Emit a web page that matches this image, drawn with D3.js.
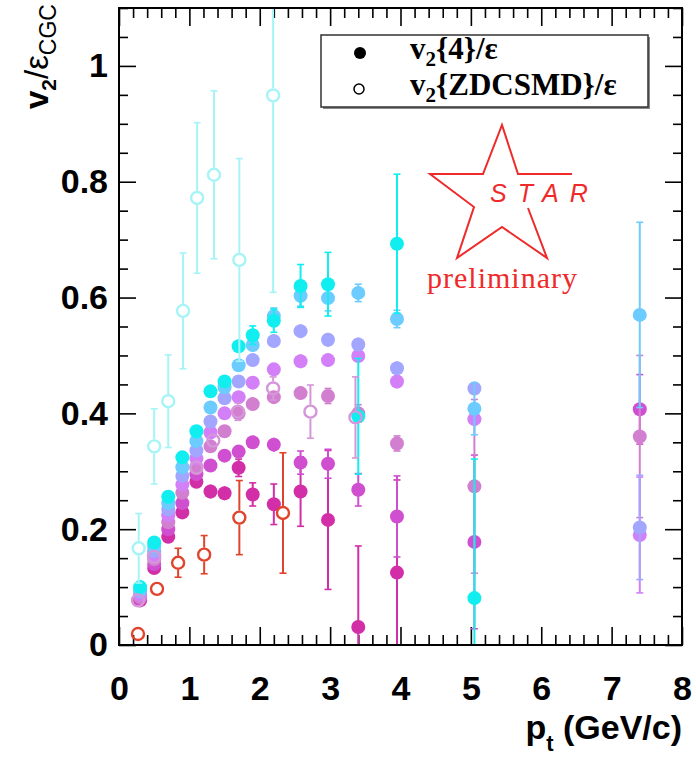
<!DOCTYPE html>
<html>
<head>
<meta charset="utf-8">
<script src="https://cdn.jsdelivr.net/npm/d3@7"></script>
<style>
  body { margin: 0; background: #fff; }
  .tick text { font-family: "Liberation Sans", Arial, sans-serif; font-weight: bold; }
</style>
</head>
<body>
<div id="chart"></div>
<script>
// pt bin centres for the v2{4} points (GeV/c)
const ptV4 = [0.3, 0.5, 0.7, 0.9, 1.1, 1.3, 1.5, 1.7, 1.9, 2.2, 2.58, 2.97, 3.4, 3.95, 5.05, 7.4];

// v2{4}/eps, one array per centrality (peripheral -> central), null = off scale
const v4Cyan    = [0.100, 0.177, 0.256, 0.324, 0.369, 0.438, 0.455, 0.516, 0.535, 0.560, 0.620, 0.623, 0.395, 0.693, 0.081, null];
const v4CyanErr = [0.005, 0.005, 0.006, 0.007, 0.008, 0.009, 0.010, 0.012, 0.016, 0.020, 0.037, 0.055, 0.100, 0.120, 0.240, null];
const v4Sky     = [0.096, 0.170, 0.245, 0.307, 0.352, 0.410, 0.445, 0.483, 0.518, 0.568, 0.603, 0.599, 0.608, 0.563, 0.408, 0.570];
const v4SkyErr  = [0.004, 0.005, 0.005, 0.006, 0.007, 0.008, 0.009, 0.010, 0.012, 0.014, 0.018, 0.022, 0.015, 0.015, 0.045, 0.160];
const v4Lav     = [0.092, 0.162, 0.234, 0.292, 0.336, 0.386, 0.426, 0.455, 0.492, 0.525, 0.542, 0.527, 0.519, 0.478, 0.443, 0.203];
const v4LavErr  = [0.004, 0.004, 0.005, 0.006, 0.006, 0.007, 0.008, 0.009, 0.010, 0.011, 0.012, 0.012, 0.012, 0.012, 0.012, 0.090];
const v4Vio     = [0.087, 0.155, 0.224, 0.277, 0.322, 0.367, 0.400, 0.428, 0.453, 0.476, 0.490, 0.492, 0.499, 0.455, 0.390, 0.190];
const v4VioErr  = [0.004, 0.004, 0.005, 0.006, 0.006, 0.007, 0.008, 0.009, 0.010, 0.011, 0.012, 0.012, 0.012, 0.012, 0.012, 0.100];
const v4Orc     = [0.083, 0.148, 0.212, 0.263, 0.308, 0.343, 0.369, 0.400, 0.416, 0.428, 0.435, 0.430, 0.400, 0.348, 0.274, 0.360];
const v4OrcErr  = [0.004, 0.004, 0.005, 0.006, 0.006, 0.007, 0.008, 0.009, 0.010, 0.011, 0.012, 0.013, 0.015, 0.013, 0.150, 0.140];
const v4Mag     = [0.080, 0.140, 0.200, 0.245, 0.295, 0.310, 0.327, 0.334, 0.350, 0.346, 0.315, 0.313, 0.268, 0.222, 0.178, 0.407];
const v4MagErr  = [0.004, 0.005, 0.005, 0.006, 0.006, 0.007, 0.008, 0.009, 0.010, 0.012, 0.020, 0.025, 0.028, 0.070, 0.150, 0.060];
const v4Deep    = [0.077, 0.133, 0.187, 0.229, 0.282, 0.265, 0.262, 0.306, 0.260, 0.243, 0.265, 0.216, 0.031, 0.125, null, null];
const v4DeepErr = [0.004, 0.005, 0.006, 0.006, 0.008, 0.012, 0.012, 0.015, 0.020, 0.035, 0.060, 0.120, 0.140, 0.160, null, null];

// v2{ZDCSMD}/eps (open symbols)
const ptZdcCyan  = [0.28, 0.50, 0.70, 0.91, 1.11, 1.35, 1.71, 2.19];
const zdcCyan    = [0.167, 0.343, 0.421, 0.577, 0.772, 0.812, 0.665, 0.949];
const zdcCyanErr = [0.060, 0.065, 0.080, 0.100, 0.130, 0.145, 0.175, 0.340];
const ptZdcOrc   = [0.27, 0.50, 1.10, 1.34, 1.69, 2.19, 2.72, 3.36];
const zdcOrc     = [0.077, 0.152, 0.306, 0.353, 0.403, 0.443, 0.403, 0.393];
const zdcOrcErr  = [0.005, 0.008, 0.010, 0.012, 0.015, 0.020, 0.046, 0.070];
const ptZdcRed   = [0.27, 0.54, 0.84, 1.21, 1.71, 2.33];
const zdcRed     = [0.019, 0.097, 0.142, 0.156, 0.220, 0.228];
const zdcRedErr  = [0.010, 0.012, 0.025, 0.033, 0.064, 0.104];

const xTicks = [0, 1, 2, 3, 4, 5, 6, 7, 8];
const yTicks = [0, 0.2, 0.4, 0.6, 0.8, 1];
const yTickLabels = ["0", "0.2", "0.4", "0.6", "0.8", "1"];

const W = 696, H = 762;
const margin = { top: 8, right: 14, bottom: 117, left: 119 };
const w = W - margin.left - margin.right;
const h = H - margin.top - margin.bottom;

const svg = d3.select("#chart").append("svg")
    .attr("width", W).attr("height", H);

const g = svg.append("g")
    .attr("transform", `translate(${margin.left},${margin.top})`);

const x = d3.scaleLinear().domain([0, 8]).range([0, w]);
const y = d3.scaleLinear().domain([0, 1.1]).range([h, 0]);

svg.append("defs").append("clipPath").attr("id", "plotclip")
    .append("rect").attr("width", w).attr("height", h);

// ---- axes (ROOT style: ticks inside, on all four sides)
const minorX = d3.range(0, 8.001, 0.2).filter(d => Math.abs(d - Math.round(d)) > 1e-6);
const minorY = d3.range(0, 1.101, 0.05).filter(d => Math.abs(d * 5 - Math.round(d * 5)) > 1e-6);

function styleAxis(sel) {
    sel.select(".domain").remove();
    sel.selectAll(".tick line").attr("stroke", "#000").attr("stroke-width", 1.6);
}

g.append("g").attr("transform", `translate(0,${h})`)
    .call(d3.axisBottom(x).tickValues(xTicks).tickSize(-18).tickPadding(31).tickFormat(d3.format("d")))
    .call(styleAxis)
    .selectAll("text").style("font-size", "34px").attr("fill", "#000");
g.append("g").attr("transform", `translate(0,${h})`)
    .call(d3.axisBottom(x).tickValues(minorX).tickSize(-10).tickFormat(""))
    .call(styleAxis);
g.append("g")
    .call(d3.axisTop(x).tickValues(xTicks).tickSize(-18).tickFormat(""))
    .call(styleAxis);
g.append("g")
    .call(d3.axisTop(x).tickValues(minorX).tickSize(-10).tickFormat(""))
    .call(styleAxis);

g.append("g")
    .call(d3.axisLeft(y).tickValues(yTicks).tickSize(-17).tickPadding(11)
        .tickFormat((d, i) => yTickLabels[i]))
    .call(styleAxis)
    .selectAll("text").style("font-size", "34px").attr("fill", "#000");
g.append("g")
    .call(d3.axisLeft(y).tickValues(minorY).tickSize(-9).tickFormat(""))
    .call(styleAxis);
g.append("g").attr("transform", `translate(${w},0)`)
    .call(d3.axisRight(y).tickValues(yTicks).tickSize(-17).tickFormat(""))
    .call(styleAxis);
g.append("g").attr("transform", `translate(${w},0)`)
    .call(d3.axisRight(y).tickValues(minorY).tickSize(-9).tickFormat(""))
    .call(styleAxis);

// ---- data
const R = 7;
const plot = g.append("g").attr("clip-path", "url(#plotclip)");

function rows(pts, vals, errs) {
    return pts.map((p, i) => ({ pt: p, v: vals[i], e: errs[i] })).filter(d => d.v !== null);
}

function drawFilled(data, color) {
    const s = plot.append("g");
    const cap = 3.5;
    s.selectAll("line.bar").data(data).enter().append("line")
        .attr("x1", d => x(d.pt)).attr("x2", d => x(d.pt))
        .attr("y1", d => y(d.v + d.e)).attr("y2", d => y(d.v - d.e))
        .attr("stroke", color).attr("stroke-width", 2);
    [1, -1].forEach(sg => {
        s.selectAll(null).data(data.filter(d => y(d.v - d.e) - y(d.v + d.e) > 2 * R)).enter().append("line")
            .attr("x1", d => x(d.pt) - cap).attr("x2", d => x(d.pt) + cap)
            .attr("y1", d => y(d.v + sg * d.e)).attr("y2", d => y(d.v + sg * d.e))
            .attr("stroke", color).attr("stroke-width", 1.6);
    });
    s.selectAll("circle").data(data).enter().append("circle")
        .attr("cx", d => x(d.pt)).attr("cy", d => y(d.v)).attr("r", R)
        .attr("fill", color);
}

function drawOpen(data, color) {
    const s = plot.append("g");
    const cap = 3.5;
    const big = data.filter(d => y(d.v - d.e) - y(d.v + d.e) > 2 * R);
    s.selectAll(null).data(big).enter().append("line")
        .attr("x1", d => x(d.pt)).attr("x2", d => x(d.pt))
        .attr("y1", d => y(d.v + d.e)).attr("y2", d => y(d.v) - R)
        .attr("stroke", color).attr("stroke-width", 2);
    s.selectAll(null).data(big).enter().append("line")
        .attr("x1", d => x(d.pt)).attr("x2", d => x(d.pt))
        .attr("y1", d => y(d.v) + R).attr("y2", d => y(d.v - d.e))
        .attr("stroke", color).attr("stroke-width", 2);
    [1, -1].forEach(sg => {
        s.selectAll(null).data(big).enter().append("line")
            .attr("x1", d => x(d.pt) - cap).attr("x2", d => x(d.pt) + cap)
            .attr("y1", d => y(d.v + sg * d.e)).attr("y2", d => y(d.v + sg * d.e))
            .attr("stroke", color).attr("stroke-width", 1.6);
    });
    s.selectAll("circle").data(data).enter().append("circle")
        .attr("cx", d => x(d.pt)).attr("cy", d => y(d.v)).attr("r", R - 1)
        .attr("fill", "none").attr("stroke", color).attr("stroke-width", 2.4);
}

drawFilled(rows(ptV4, v4Deep, v4DeepErr), "#d22ea8");
drawFilled(rows(ptV4, v4Mag, v4MagErr), "#d04fd0");
drawFilled(rows(ptV4, v4Orc, v4OrcErr), "#d27fd0");
drawFilled(rows(ptV4, v4Vio, v4VioErr), "#d27ff8");
drawFilled(rows(ptV4, v4Lav, v4LavErr), "#a2a6ff");
drawFilled(rows(ptV4, v4Sky, v4SkyErr), "#6cccff");
drawFilled(rows(ptV4, v4Cyan, v4CyanErr), "#10eef0");

drawOpen(rows(ptZdcOrc, zdcOrc, zdcOrcErr), "#d696da");
drawOpen(rows(ptZdcCyan, zdcCyan, zdcCyanErr), "#a6f4f6");
drawOpen(rows(ptZdcRed, zdcRed, zdcRedErr), "#e0442c");

// frame
g.append("rect").attr("width", w).attr("height", h)
    .attr("fill", "none").attr("stroke", "#000").attr("stroke-width", 2);

// ---- axis titles
svg.append("text")
    .attr("transform", "translate(48,4) rotate(-90)")
    .attr("text-anchor", "end")
    .style("font-family", "'Liberation Sans', Arial, sans-serif")
    .style("font-weight", "bold").style("font-size", "33px")
    .call(t => {
        t.append("tspan").text("v");
        t.append("tspan").attr("dy", 8).style("font-size", "21px").text("2");
        t.append("tspan").attr("dy", -8).style("font-weight", "normal").text("/ε");
        t.append("tspan").attr("dy", 8).style("font-size", "23px").style("font-weight", "normal").text("CGC");
    });

svg.append("text")
    .attr("x", margin.left + w).attr("y", 739)
    .attr("text-anchor", "end")
    .style("font-family", "'Liberation Sans', Arial, sans-serif")
    .style("font-weight", "bold").style("font-size", "34px")
    .call(t => {
        t.append("tspan").text("p");
        t.append("tspan").attr("dy", 12).style("font-size", "22px").text("t");
        t.append("tspan").attr("dy", -12).text(" (GeV/c)");
    });

// ---- legend
const leg = svg.append("g").attr("transform", "translate(321,35)");
leg.append("rect").attr("x", 2).attr("y", 2).attr("width", 327).attr("height", 72).attr("fill", "#888");
leg.append("rect").attr("width", 327).attr("height", 72).attr("fill", "#fff")
    .attr("stroke", "#333").attr("stroke-width", 1.5);
leg.append("circle").attr("cx", 39).attr("cy", 18).attr("r", 6).attr("fill", "#000");
leg.append("circle").attr("cx", 38).attr("cy", 54).attr("r", 5).attr("fill", "none")
    .attr("stroke", "#000").attr("stroke-width", 1.5);
const legText = [["{4}/ε", 24], ["{ZDCSMD}/ε", 60]];
legText.forEach(([s, yy]) => {
    leg.append("text").attr("x", 89).attr("y", yy)
        .style("font-family", "'Liberation Serif', 'Times New Roman', serif")
        .style("font-weight", "bold").style("font-size", "31px")
        .call(t => {
            t.append("tspan").text("v");
            t.append("tspan").attr("dy", 7).style("font-size", "21px").text("2");
            t.append("tspan").attr("dy", -7).text(s);
        });
});

// ---- STAR preliminary logo
const starPath = [[528, 208], [547, 258], [502, 227], [457, 258], [474, 207], [430, 174],
                  [483, 174], [502, 125], [518, 174], [572, 174]];
svg.append("path").attr("d", d3.line()(starPath))
    .attr("fill", "none").attr("stroke", "#ee2a2a").attr("stroke-width", 2);
svg.append("text").attr("x", 490).attr("y", 202)
    .style("font-family", "'Liberation Sans', Arial, sans-serif")
    .style("font-style", "italic").style("font-size", "25px")
    .style("letter-spacing", "11px").attr("fill", "#ee2a2a").text("STAR");
svg.append("text").attr("x", 427).attr("y", 288)
    .style("font-family", "'Liberation Serif', 'Times New Roman', serif")
    .style("font-size", "30px").attr("fill", "#ee2a2a")
    .attr("textLength", 150).text("preliminary");
</script>
</body>
</html>
